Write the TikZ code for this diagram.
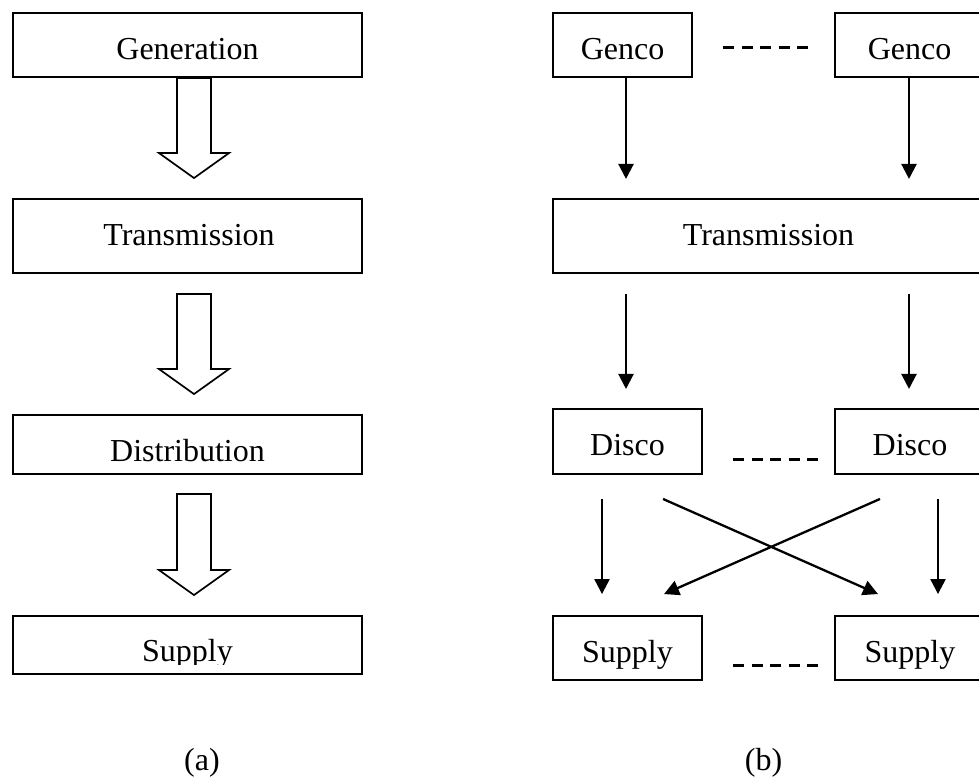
\documentclass[tikz,border=0pt]{standalone}
\usepackage{fontspec}
\setmainfont{Liberation Serif}
\usetikzlibrary{arrows.meta,calc}

\tikzset{
  box/.style={draw, line width=1.9pt, inner sep=0pt},
  txt/.style={anchor=base, inner sep=0pt, font=\fontsize{32pt}{38pt}\selectfont},
  arr/.style={line width=2.3pt, -{Triangle[width=15pt,length=15pt]}},
  dashline/.style={line width=3pt, dash pattern=on 11pt off 7.5pt},
  blockstyle/.style={draw, line width=1.7pt, fill=white, line join=miter},
}

% hollow block arrow: #1 = middle of the shaft top, #2 = tip
\newcommand\blockarr[2]{%
  \path[blockstyle] let \p1=(#1), \p2=(#2) in
    (\x1-17pt,\y1) -- (\x1-17pt,\y2+25pt) -- (\x1-35pt,\y2+25pt) -- (\x1,\y2)
    -- (\x1+35pt,\y2+25pt) -- (\x1+17pt,\y2+25pt) -- (\x1+17pt,\y1) -- cycle;}

\begin{document}
\begin{tikzpicture}[x=1pt,y=-1pt]
\useasboundingbox (0,0) rectangle (979,779);
\clip (0,0) rectangle (979,779);

% ---------- (a) vertically integrated chain ----------
\node[box, minimum width=349pt, minimum height=64pt] (gen)  at (187.5,45)    {};
\node[box, minimum width=349pt, minimum height=74pt] (trL)  at (187.5,236)   {};
\node[box, minimum width=349pt, minimum height=59pt] (dist) at (187.5,444.5) {};
\node[box, minimum width=349pt, minimum height=58pt] (supL) at (187.5,645)   {};

\node[txt] (gen-t)  at (187.5,59.3)  {Generation};
\node[txt] (trL-t)  at (189,245.7)   {Transmission};
\node[txt] (dist-t) at (187.5,461.7) {Distribution};
\begin{scope}
  \clip (13,616) rectangle (362,664);
  \node[txt] (supL-t) at (187.5,661.7) {Supply};
\end{scope}

\blockarr{$(gen.south)+(6.5,0)$}{$(trL.north)+(6.5,-20)$}
\blockarr{$(trL.south)+(6.5,20)$}{$(dist.north)+(6.5,-20)$}
\blockarr{$(dist.south)+(6.5,19)$}{$(supL.north)+(6.5,-20)$}

% ---------- (b) unbundled market ----------
\node[box, minimum width=139pt, minimum height=64pt] (g1)  at (622.5,45)  {};
\node[box, minimum width=150pt, minimum height=64pt] (g2)  at (910,45)    {};
\node[box, minimum width=432pt, minimum height=74pt] (trR) at (769,236)   {};
\node[box, minimum width=149pt, minimum height=65pt] (d1)  at (627.5,441.5) {};
\node[box, minimum width=150pt, minimum height=65pt] (d2)  at (910,441.5) {};
\node[box, minimum width=149pt, minimum height=64pt] (s1)  at (627.5,648) {};
\node[box, minimum width=150pt, minimum height=64pt] (s2)  at (910,648)   {};

\node[txt] (g1-t)  at (622.5,59.3) {Genco};
\node[txt] (g2-t)  at (909.5,59.3) {Genco};
\node[txt] (trR-t) at (768.5,245.7) {Transmission};
\node[txt] (d1-t)  at (627.5,455) {Disco};
\node[txt] (d2-t)  at (910,455)   {Disco};
\node[txt] (s1-t)  at (627.5,662) {Supply};
\node[txt] (s2-t)  at (910,662)   {Supply};

% "and so on" dashes between the repeated boxes
\draw[dashline] (723,47)  -- (808,47);
\draw[dashline] (733,459) -- (818,459);
\draw[dashline] (733,665) -- (818,665);

% gencos feed the grid
\draw[arr] ($(g1.south)+(3.5,0)$) -- ++(0,101);
\draw[arr] ($(g2.south)+(-1,0)$)  -- ++(0,101);
% grid feeds the discos
\draw[arr] ($(trR.south)+(-143,20)$) -- ++(0,95);
\draw[arr] ($(trR.south)+(140,20)$)  -- ++(0,95);
% discos feed any supplier
\draw[arr] ($(d1.south)+(-25.5,24)$) -- ($(s1.north)+(-25.5,-21)$);
\draw[arr] ($(d2.south)+(28,24)$)    -- ($(s2.north)+(28,-21)$);
\draw[arr] ($(d1.south)+(35.5,24)$)  -- ($(s2.north)+(-32,-21)$);
\draw[arr] ($(d2.south)+(-30,24)$)   -- ($(s1.north)+(36.5,-21)$);

% captions
\node[txt] (cap-a) at (202,770)   {(a)};
\node[txt] (cap-b) at (763.5,770) {(b)};
\end{tikzpicture}
\end{document}
